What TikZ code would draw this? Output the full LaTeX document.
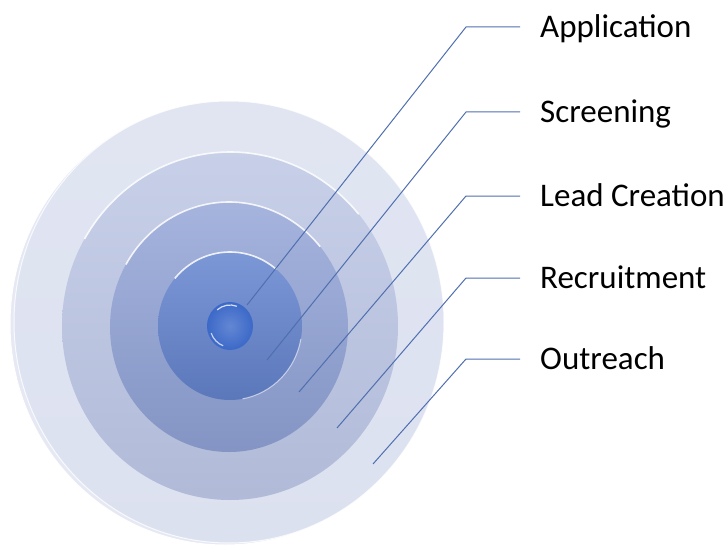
\documentclass[tikz,border=0pt]{standalone}
\usepackage{fontspec}
\setmainfont{Carlito}
\definecolor{ringA}{HTML}{DCE1F0}
\definecolor{ringAb}{HTML}{E6E9F4}
\definecolor{ringB}{HTML}{BAC4E3}
\definecolor{ringC}{HTML}{8FA1D5}
\definecolor{ringD}{HTML}{6585CF}
\definecolor{dotc}{HTML}{3C69C8}
\definecolor{leader}{HTML}{4F6FAF}
\tikzset{
  leaderline/.style={draw=leader, line width=1pt},
  stagelabel/.style={anchor=west, inner xsep=20pt, inner ysep=0pt, text height=21.3pt, text depth=0pt,
     font=\fontsize{33}{40}\selectfont, text=black},
  rimlight/.style={draw=white, line width=1.6pt, opacity=0.85},
}
\begin{document}
\begin{tikzpicture}[x=1pt,y=1pt]
\useasboundingbox (0,0) rectangle (728,550);
% back rim of outer disc
\fill[ringAb] (225,226) ellipse [x radius=215pt, y radius=221pt];
\draw[white, line width=1pt] (225,226) ellipse [x radius=215pt, y radius=221pt];
% discs
\shade[top color=ringA!85!white, bottom color=ringA] (229,228) ellipse [x radius=215pt, y radius=221pt];
\draw[white, line width=1pt, opacity=.8] (229,228) ellipse [x radius=215pt, y radius=221pt];
\shade[top color=ringB!80!white, bottom color=ringB!95!black] (230,224) ellipse [x radius=168pt, y radius=174pt];
\draw[rimlight] (230,224) ++(150:168pt and 174pt) arc [start angle=150, end angle=40, x radius=168pt, y radius=174pt];
\shade[top color=ringC!80!white, bottom color=ringC!92!black] (229,223) ellipse [x radius=119pt, y radius=125pt];
\draw[rimlight] (229,223) ++(150:119pt and 125pt) arc [start angle=150, end angle=40, x radius=119pt, y radius=125pt];
\shade[top color=ringD!85!white, bottom color=ringD!90!black] (230,224) ellipse [x radius=72pt, y radius=74pt];
\draw[rimlight] (230,224) ++(140:72pt and 74pt) arc [start angle=140, end angle=50, x radius=72pt, y radius=74pt];
\draw[white, line width=1pt, opacity=.6] (230,224) ++(-10:72pt and 74pt) arc [start angle=-10, end angle=-80, x radius=72pt, y radius=74pt];
\shade[inner color=dotc!80!white, outer color=dotc] (230,224) ellipse [x radius=23pt, y radius=24pt];
\draw[white, line width=1.2pt, opacity=.8] (230,224) ++(130:20pt and 21pt) arc [start angle=130, end angle=70, x radius=20pt, y radius=21pt];
\draw[white, line width=1.2pt, opacity=.7] (230,224) ++(200:20pt and 21pt) arc [start angle=200, end angle=250, x radius=20pt, y radius=21pt];
% coordinates
\coordinate (e1) at (247,245);
\coordinate (e2) at (267,190);
\coordinate (e3) at (299,158);
\coordinate (e4) at (337,122);
\coordinate (e5) at (373,86);
\coordinate (k1) at (466,523);
\coordinate (k2) at (466,438);
\coordinate (k3) at (466,354);
\coordinate (k4) at (466,272);
\coordinate (k5) at (466,191);
% labels
\node[stagelabel] (l1) at (520,523) {Application};
\node[stagelabel] (l2) at (520,438) {Screening};
\node[stagelabel] (l3) at (520,354) {Lead Creation};
\node[stagelabel] (l4) at (520,272) {Recruitment};
\node[stagelabel] (l5) at (520,191) {Outreach};
% leaders
\draw[leaderline] (e1) -- (k1) -- (l1.west);
\draw[leaderline] (e2) -- (k2) -- (l2.west);
\draw[leaderline] (e3) -- (k3) -- (l3.west);
\draw[leaderline] (e4) -- (k4) -- (l4.west);
\draw[leaderline] (e5) -- (k5) -- (l5.west);
\end{tikzpicture}
\end{document}
